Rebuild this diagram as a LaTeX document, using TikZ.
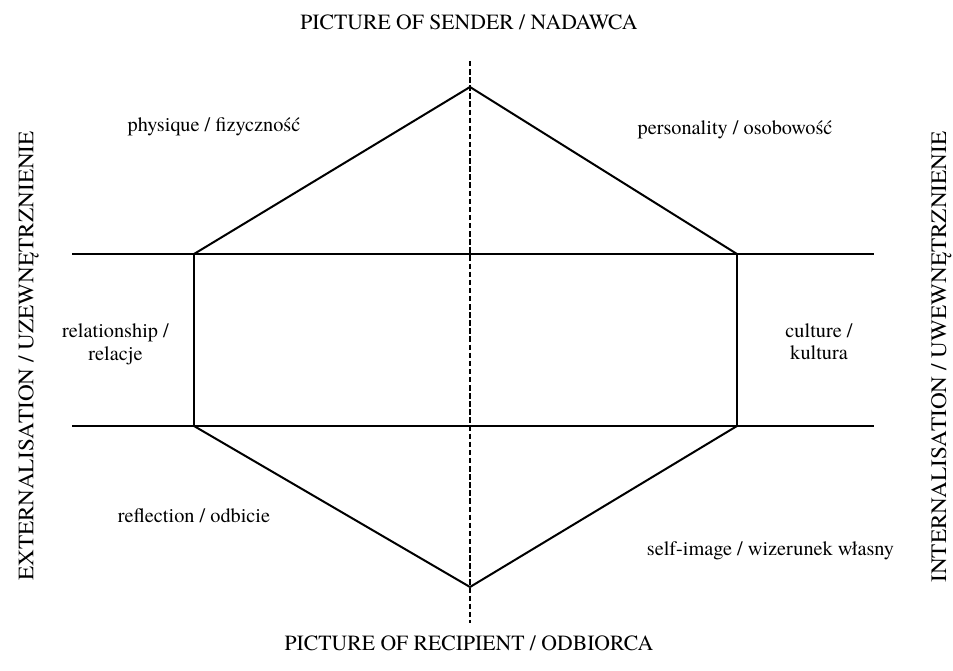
\documentclass[tikz,border=0pt]{standalone}
\usepackage{fontspec}
\setmainfont{texgyretermes}[Extension=.otf, UprightFont=*-regular, BoldFont=*-bold, ItalicFont=*-italic, BoldItalicFont=*-bolditalic]
\begin{document}
\begin{tikzpicture}[x=1pt,y=-1pt,
  lbl/.style={font=\rmfamily\fontsize{20.3}{22.3}\selectfont, inner sep=0pt, align=center},
  title/.style={font=\rmfamily\fontsize{21.7}{24}\selectfont, inner sep=0pt, anchor=base},
  side/.style={font=\rmfamily\fontsize{22}{24}\selectfont, inner sep=0pt, anchor=base, rotate=90, xscale=1.055},
  edge/.style={line width=2pt, line join=miter},
  axis/.style={line width=2pt, dash pattern=on 5.5pt off 2.6pt}]
\useasboundingbox (0,0) rectangle (953,671);

% corner points of the hexagon
\coordinate (apexT) at (470,87);
\coordinate (apexB) at (470,587);
\coordinate (ulc) at (194,254);
\coordinate (urc) at (737,254);
\coordinate (llc) at (194,426);
\coordinate (lrc) at (737,426);
% ends of the horizontal bands and of the dashed axis
\coordinate (bandTL) at (72,254);
\coordinate (bandTR) at (874,254);
\coordinate (bandBL) at (72,426);
\coordinate (bandBR) at (874,426);
\coordinate (axisT) at (470,61);
\coordinate (axisB) at (470,623);

\draw[axis] (axisT) -- (axisB);
\draw[edge] (bandTL) -- (bandTR);
\draw[edge] (bandBL) -- (bandBR);
\draw[edge] (ulc) -- (apexT) -- (urc);
\draw[edge] (llc) -- (apexB) -- (lrc);
\draw[edge] (ulc) -- (llc);
\draw[edge] (urc) -- (lrc);

% axis titles
\node[title] (sender) at (469,29.3) {PICTURE OF SENDER / NADAWCA};
\node[title] (recipient) at (469,650) {PICTURE OF RECIPIENT / ODBIORCA};
\node[side] (ext) at (33.3,356) {EXTERNALISATION / UZEWNĘTRZNIENIE};
\node[side] (int) at (946,357) {INTERNALISATION / UWEWNĘTRZNIENIE};

% field labels
\node[lbl, anchor=base] (phys) at (214,131.6) {physique / fizyczność};
\node[lbl, anchor=base] (pers) at (735,134.3) {personality / osobowość};
\node[lbl] (rel) at (115.5,344.2) {relationship /\\relacje};
\node[lbl] (cult) at (819,342) {culture /\\kultura};
\node[lbl, anchor=base] (refl) at (194,522.6) {reflection / odbicie};
\node[lbl, anchor=base] (self) at (770.5,555) {self-image / wizerunek własny};
\end{tikzpicture}
\end{document}
